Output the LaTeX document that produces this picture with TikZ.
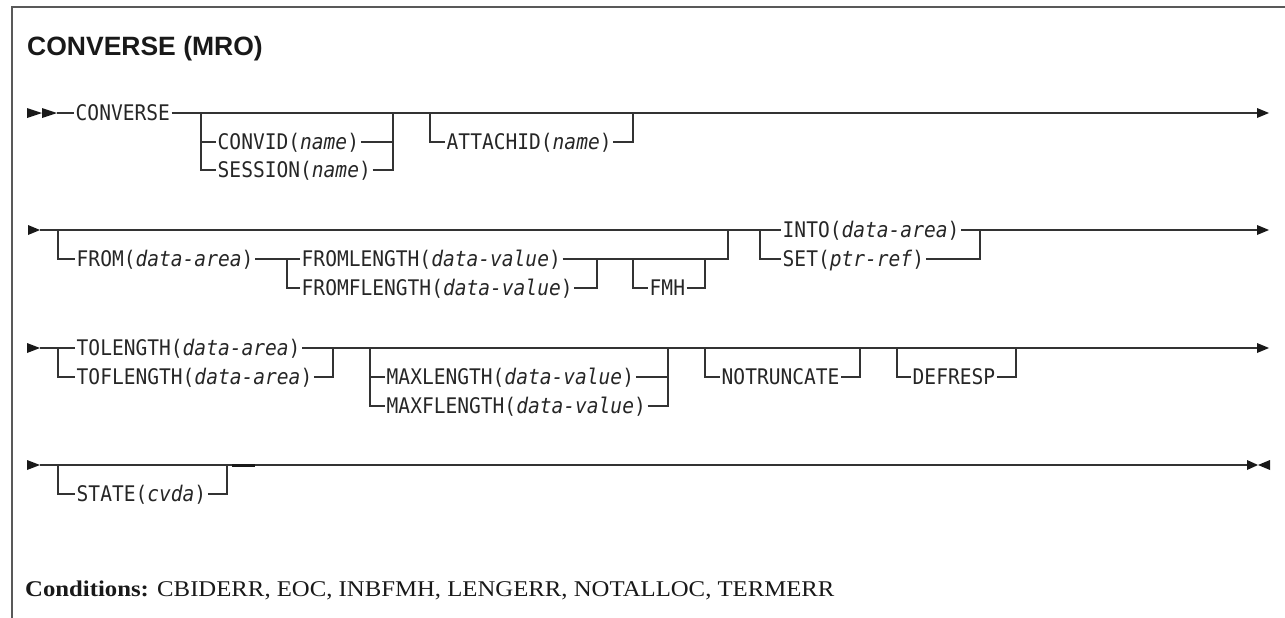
\documentclass[tikz,border=0pt]{standalone}
\usepackage{fontspec}
\newfontfamily\monof{DejaVu Sans Mono}[FakeStretch=0.91, ItalicFont={DejaVu Sans Mono Oblique}]
\newfontfamily\titlef{Liberation Sans}
\newfontfamily\condf{Liberation Serif}[FakeStretch=1.1]
\begin{document}
\begin{tikzpicture}[x=1pt,y=-1pt,
  rail/.style={line width=1.4pt, draw=black!80},
  tip/.style={fill=black!90},
  kw/.style={anchor=west, inner xsep=1.5pt, inner ysep=0pt, text height=15.7pt, text depth=0pt,
    font=\monof\fontsize{21.5}{24}\selectfont, text=black!85},
  frame/.style={line width=2pt, draw=black!65}]
\useasboundingbox (0,0) rectangle (1285,618);
\draw[frame] (11.5,618) -- (11.5,7.5) -- (1285,7.5);
\node[anchor=base west, inner sep=0, font=\titlef\bfseries\fontsize{26.5}{30}\selectfont, text=black!90] (title) at (27,56) {CONVERSE (MRO)};

% ---------- row 1 ----------
\fill[tip] (27,108) -- (42,113) -- (27,118) -- cycle;
\fill[tip] (42,108) -- (57,113) -- (42,118) -- cycle;
\coordinate (s1) at (57,113);
\coordinate (e1) at (1257,113);
\node[kw] (converse) at (74,113) {CONVERSE};
\draw[rail] (s1) -- (converse.west);
\draw[rail] (converse.east) -- (e1);
\fill[tip] (1257,108) -- (1269,113) -- (1257,118) -- cycle;
\node[kw] (convid) at (216,142) {CONVID(\textit{name})};
\node[kw] (session) at (216,170) {SESSION(\textit{name})};
\draw[rail] (201,113) -- (201,170) -- (session.west);
\draw[rail] (201,142) -- (convid.west);
\draw[rail] (convid.east) -- (393,142);
\draw[rail] (session.east) -- (393,170) -- (393,113);
\node[kw] (attach) at (445,142) {ATTACHID(\textit{name})};
\draw[rail] (430,113) -- (430,142) -- (attach.west);
\draw[rail] (attach.east) -- (633,142) -- (633,113);

% ---------- row 2 ----------
\fill[tip] (28,225) -- (40,230) -- (28,235) -- cycle;
\coordinate (s2) at (40,230);
\coordinate (e2) at (1257,230);
\node[kw] (into) at (781,230) {INTO(\textit{data-area})};
\node[kw] (set) at (781,259) {SET(\textit{ptr-ref})};
\draw[rail] (s2) -- (into.west);
\draw[rail] (into.east) -- (e2);
\fill[tip] (1257,225) -- (1269,230) -- (1257,235) -- cycle;
\node[kw] (from) at (75,259) {FROM(\textit{data-area})};
\draw[rail] (58,230) -- (58,259) -- (from.west);
\node[kw] (fromlen) at (300,259) {FROMLENGTH(\textit{data-value})};
\node[kw] (fromflen) at (300,288) {FROMFLENGTH(\textit{data-value})};
\draw[rail] (from.east) -- (fromlen.west);
\draw[rail] (287,259) -- (287,288) -- (fromflen.west);
\draw[rail] (fromlen.east) -- (728,259) -- (728,230);
\draw[rail] (fromflen.east) -- (597,288) -- (597,259);
\node[kw] (fmh) at (648,288) {FMH};
\draw[rail] (633,259) -- (633,288) -- (fmh.west);
\draw[rail] (fmh.east) -- (705,288) -- (705,259);
\draw[rail] (760,230) -- (760,259) -- (set.west);
\draw[rail] (set.east) -- (980,259) -- (980,230);

% ---------- row 3 ----------
\fill[tip] (27,343) -- (40,348) -- (27,353) -- cycle;
\coordinate (s3) at (40,348);
\coordinate (e3) at (1257,348);
\node[kw] (tolen) at (75,348) {TOLENGTH(\textit{data-area})};
\node[kw] (toflen) at (75,377) {TOFLENGTH(\textit{data-area})};
\draw[rail] (s3) -- (tolen.west);
\draw[rail] (tolen.east) -- (e3);
\fill[tip] (1257,343) -- (1269,348) -- (1257,353) -- cycle;
\draw[rail] (58,348) -- (58,377) -- (toflen.west);
\draw[rail] (toflen.east) -- (333,377) -- (333,348);
\node[kw] (maxlen) at (385,377) {MAXLENGTH(\textit{data-value})};
\node[kw] (maxflen) at (385,406) {MAXFLENGTH(\textit{data-value})};
\draw[rail] (370,348) -- (370,406) -- (maxflen.west);
\draw[rail] (370,377) -- (maxlen.west);
\draw[rail] (maxlen.east) -- (668,377);
\draw[rail] (maxflen.east) -- (668,406) -- (668,348);
\node[kw] (notr) at (720,377) {NOTRUNCATE};
\draw[rail] (705,348) -- (705,377) -- (notr.west);
\draw[rail] (notr.east) -- (860,377) -- (860,348);
\node[kw] (defr) at (911,377) {DEFRESP};
\draw[rail] (897,348) -- (897,377) -- (defr.west);
\draw[rail] (defr.east) -- (1016,377) -- (1016,348);

% ---------- row 4 ----------
\fill[tip] (27,460) -- (40,465) -- (27,470) -- cycle;
\coordinate (s4) at (40,465);
\coordinate (e4) at (1247,465);
\draw[rail] (s4) -- (e4);
\node[kw] (state) at (75,494) {STATE(\textit{cvda})};
\draw[rail] (58,465) -- (58,494) -- (state.west);
\draw[rail] (state.east) -- (227,494) -- (227,465);
\draw[line width=3pt, black!90] (232,465) -- (255,465);
\fill[tip] (1247,460) -- (1258,465) -- (1247,470) -- cycle;
\fill[tip] (1270,460) -- (1258,465) -- (1270,470) -- cycle;

% ---------- conditions ----------
\node[anchor=base west, inner sep=0, font=\condf\fontsize{22.5}{26}\selectfont, text=black!90] (cond) at (25,596)
  {\textbf{Conditions:} CBIDERR, EOC, INBFMH, LENGERR, NOTALLOC, TERMERR};
\end{tikzpicture}
\end{document}
